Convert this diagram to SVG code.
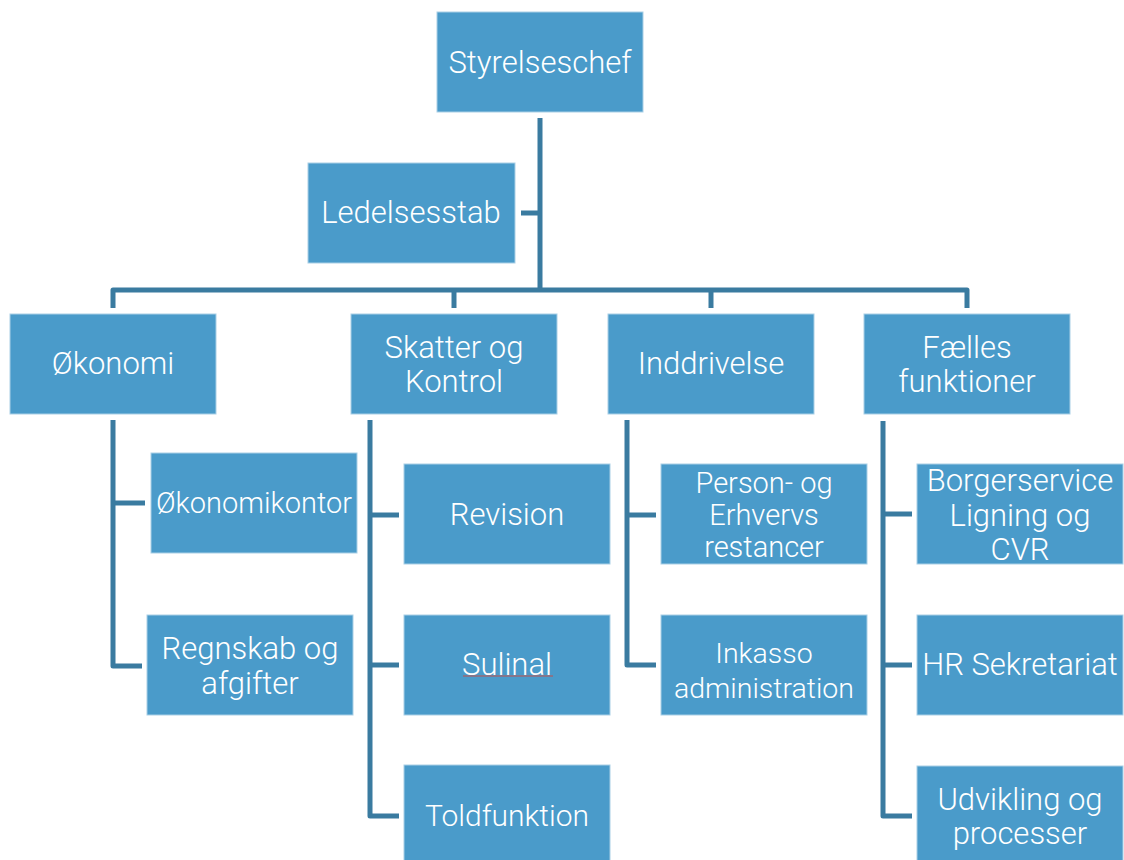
<svg xmlns="http://www.w3.org/2000/svg" width="1124" height="860" viewBox="0 0 1124 860">
<style>
.box{fill:#4A9BCA;stroke:#A9CFE6;stroke-width:1}
.t{font-family:Roboto,"Liberation Sans",Arial,sans-serif;font-weight:300;font-size:31px;fill:#FFFFFF;text-anchor:middle;dominant-baseline:central}
.s{font-size:29px}
.c{fill:none;stroke:#3A7BA0;stroke-width:5;stroke-linejoin:round;stroke-linecap:butt}
</style>
<rect width="1124" height="860" fill="#FFFFFF"/>
<g id="connectors">
<path class="c" d="M540,118 V290"/>
<path class="c" d="M521,213 H540"/>
<path class="c" d="M113,308 V290 H967 V308"/>
<path class="c" d="M454,290 V308"/>
<path class="c" d="M711,290 V308"/>
<path class="c" d="M113,420 V666 H142"/>
<path class="c" d="M113,503 H145"/>
<path class="c" d="M370,420 V816 H399"/>
<path class="c" d="M370,515 H399"/>
<path class="c" d="M370,665 H399"/>
<path class="c" d="M627,420 V665 H656"/>
<path class="c" d="M627,515 H656"/>
<path class="c" d="M883,421 V816 H912"/>
<path class="c" d="M883,514 H912"/>
<path class="c" d="M883,665 H912"/>
</g>
<g id="styrelseschef"><rect class="box" x="437" y="12" width="206" height="100"/><text class="t" x="540" y="62">Styrelseschef</text></g>
<g id="ledelsesstab"><rect class="box" x="308" y="163" width="207" height="100"/><text class="t" x="411" y="212">Ledelsesstab</text></g>
<g id="okonomi"><rect class="box" x="10" y="314" width="206" height="100"/><text class="t" x="113" y="363">Økonomi</text></g>
<g id="skatter"><rect class="box" x="351" y="314" width="206" height="100"/><text class="t" x="454" y="347">Skatter og</text><text class="t" x="454" y="381">Kontrol</text></g>
<g id="inddrivelse"><rect class="box" x="608" y="314" width="206" height="100"/><text class="t" x="711" y="363">Inddrivelse</text></g>
<g id="faelles"><rect class="box" x="864" y="314" width="206" height="100"/><text class="t" x="967" y="347">Fælles</text><text class="t" x="967" y="381">funktioner</text></g>
<g id="okonomikontor"><rect class="box" x="151" y="453" width="206" height="100"/><text class="t s" x="254" y="503">Økonomikontor</text></g>
<g id="regnskab"><rect class="box" x="147" y="615" width="206" height="100"/><text class="t" x="250" y="648">Regnskab og</text><text class="t" x="250" y="683">afgifter</text></g>
<g id="revision"><rect class="box" x="404" y="464" width="206" height="100"/><text class="t" x="507" y="514">Revision</text></g>
<g id="sulinal"><rect class="box" x="404" y="615" width="206" height="100"/><text class="t" x="507" y="664">Sulinal</text><path d="M463,676 H553" stroke="#C0504D" stroke-width="1" fill="none"/></g>
<g id="toldfunktion"><rect class="box" x="404" y="765" width="206" height="100"/><text class="t" x="507" y="815" style="font-size:30px">Toldfunktion</text></g>
<g id="person"><rect class="box" x="661" y="464" width="206" height="100"/><text class="t s" x="764" y="483">Person- og</text><text class="t s" x="764" y="515">Erhvervs</text><text class="t s" x="764" y="547">restancer</text></g>
<g id="inkasso"><rect class="box" x="661" y="615" width="206" height="100"/><text class="t" x="764" y="653" style="font-size:28.5px">Inkasso</text><text class="t" x="764" y="688" style="font-size:28.5px">administration</text></g>
<g id="borgerservice"><rect class="box" x="917" y="464" width="206" height="100"/><text class="t" x="1020" y="480">Borgerservice</text><text class="t" x="1020" y="515">Ligning og</text><text class="t" x="1020" y="549">CVR</text></g>
<g id="hr"><rect class="box" x="917" y="615" width="206" height="100"/><text class="t" x="1020" y="664">HR Sekretariat</text></g>
<g id="udvikling"><rect class="box" x="917" y="766" width="206" height="100"/><text class="t" x="1020" y="799">Udvikling og</text><text class="t" x="1020" y="833">processer</text></g>
</svg>
